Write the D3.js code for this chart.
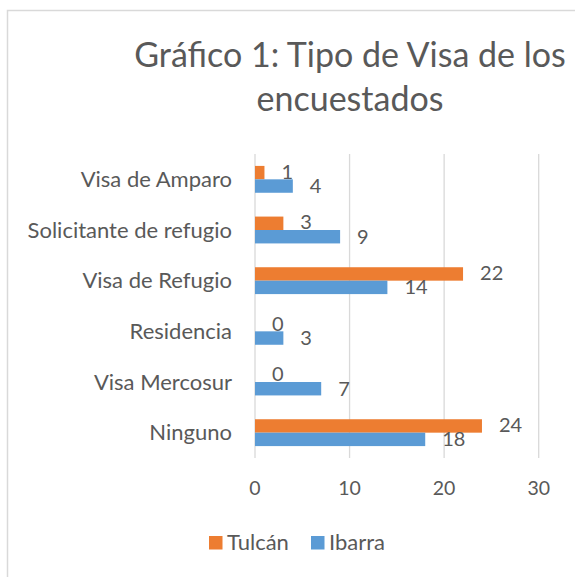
<!DOCTYPE html>
<html>
<head>
<meta charset="utf-8">
<script src="https://cdn.jsdelivr.net/npm/d3@7"></script>
<style>
  body { margin: 0; background: #fff; }
  text { font-family: Lato, "Open Sans", sans-serif; fill: #595959; }
</style>
</head>
<body>
<div id="chart"></div>
<script>
const categories = ['Visa de Amparo', 'Solicitante de refugio', 'Visa de Refugio', 'Residencia', 'Visa Mercosur', 'Ninguno'];
const seriesNames = ['Tulcán', 'Ibarra'];
const tulcan = [1, 3, 22, 0, 0, 24];
const ibarra = [4, 9, 14, 3, 7, 18];
const xTicks = [0, 10, 20, 30];
const colors = ['#ED7D31', '#5B9BD5'];

const width = 575;
const height = 577;

const svg = d3.select('#chart')
  .append('svg')
  .attr('width', width)
  .attr('height', height);

// chart area border (right/bottom fall outside the crop)
svg.append('rect')
  .attr('x', 7.5)
  .attr('y', 10.5)
  .attr('width', 700)
  .attr('height', 700)
  .attr('fill', 'none')
  .attr('stroke', '#d9d9d9')
  .attr('stroke-width', 1.5);

// title, two lines
const title = svg.append('text')
  .attr('text-anchor', 'middle')
  .attr('font-size', '34px');
title.append('tspan').attr('x', 350).attr('y', 67).text('Gráfico 1: Tipo de Visa de los');
title.append('tspan').attr('x', 350).attr('y', 111).text('encuestados');

const x = d3.scaleLinear()
  .domain([0, 30])
  .range([255, 538.7]);

const y = d3.scaleBand()
  .domain(categories)
  .range([154, 458])
  .paddingInner(0.47)
  .paddingOuter(0.235);

const ySub = d3.scaleBand()
  .domain(seriesNames)
  .range([0, y.bandwidth()]);

const color = d3.scaleOrdinal().domain(seriesNames).range(colors);

// vertical gridlines
svg.append('g')
  .selectAll('line')
  .data(xTicks)
  .enter()
  .append('line')
  .attr('x1', d => x(d))
  .attr('x2', d => x(d))
  .attr('y1', 154)
  .attr('y2', 458)
  .attr('stroke', '#d9d9d9')
  .attr('stroke-width', 1.3);

// x tick labels
svg.append('g')
  .selectAll('text')
  .data(xTicks)
  .enter()
  .append('text')
  .attr('x', d => x(d))
  .attr('y', 490)
  .attr('text-anchor', 'middle')
  .attr('dominant-baseline', 'middle')
  .attr('font-size', '19.5px')
  .text(d => d);

// category labels
svg.append('g')
  .selectAll('text')
  .data(categories)
  .enter()
  .append('text')
  .attr('x', 232)
  .attr('y', d => y(d) + y.bandwidth() / 2 + 2)
  .attr('text-anchor', 'end')
  .attr('dominant-baseline', 'middle')
  .attr('font-size', '22px')
  .text(d => d);

const rows = categories.map((c, i) => ({
  category: c,
  values: [
    { series: 'Tulcán', value: tulcan[i] },
    { series: 'Ibarra', value: ibarra[i] }
  ]
}));

const groups = svg.append('g')
  .selectAll('g')
  .data(rows)
  .enter()
  .append('g')
  .attr('transform', d => `translate(0,${y(d.category)})`);

groups.selectAll('rect')
  .data(d => d.values)
  .enter()
  .append('rect')
  .attr('x', x(0))
  .attr('y', d => ySub(d.series))
  .attr('width', d => x(d.value) - x(0))
  .attr('height', ySub.bandwidth())
  .attr('fill', d => color(d.series));

// data labels
groups.selectAll('.val')
  .data(d => d.values)
  .enter()
  .append('text')
  .attr('class', 'val')
  .attr('x', d => x(d.value) + 17)
  .attr('y', d => ySub(d.series) + ySub.bandwidth() / 2 + (d.series === 'Ibarra' ? 2 : 1))
  .attr('dominant-baseline', 'middle')
  .attr('font-size', '20px')
  .attr('fill', '#404040')
  .text(d => d.value);

// legend
const legendItems = [
  { name: 'Tulcán', x: 209 },
  { name: 'Ibarra', x: 311 }
];
const legend = svg.append('g');
legend.selectAll('rect')
  .data(legendItems)
  .enter()
  .append('rect')
  .attr('x', d => d.x)
  .attr('y', 536)
  .attr('width', 13.5)
  .attr('height', 13.5)
  .attr('fill', d => color(d.name));
legend.selectAll('text')
  .data(legendItems)
  .enter()
  .append('text')
  .attr('x', d => d.x + 18)
  .attr('y', 544)
  .attr('dominant-baseline', 'middle')
  .attr('font-size', '22px')
  .text(d => d.name);
</script>
</body>
</html>
